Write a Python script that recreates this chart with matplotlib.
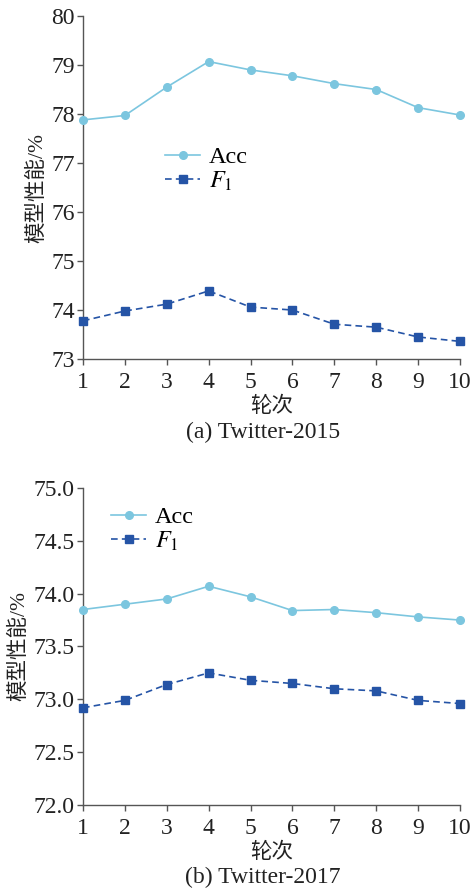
import matplotlib
matplotlib.use("Agg")
import matplotlib.pyplot as plt

plt.rcParams['font.family'] = ['Liberation Serif', 'Noto Sans CJK SC']
plt.rcParams['mathtext.fontset'] = 'stix'

epochs = [1, 2, 3, 4, 5, 6, 7, 8, 9, 10]

# (a) Twitter-2015
acc_2015 = [77.88, 77.97, 78.55, 79.07, 78.90, 78.78, 78.62, 78.50, 78.13, 77.98]
f1_2015 = [73.78, 73.98, 74.12, 74.39, 74.06, 74.00, 73.71, 73.65, 73.45, 73.36]
yticks_2015 = [73, 74, 75, 76, 77, 78, 79, 80]

# (b) Twitter-2017
acc_2017 = [73.85, 73.90, 73.95, 74.07, 73.97, 73.84, 73.85, 73.82, 73.78, 73.75]
f1_2017 = [72.92, 72.99, 73.14, 73.25, 73.18, 73.15, 73.10, 73.08, 72.99, 72.96]
yticks_2017 = [72.0, 72.5, 73.0, 73.5, 74.0, 74.5, 75.0]

acc_color = '#7cc6df'
f1_color = '#2554a6'
spine_color = '#555555'

fig = plt.figure(figsize=(4.73, 8.9), dpi=100)
ax_top = fig.add_axes([0.1755, 0.5966, 0.797, 0.3854])
ax_bot = fig.add_axes([0.1755, 0.0955, 0.797, 0.3562])


def draw_panel(ax, acc, f1, yticks, fmt, legend_anchor, caption, caption_y):
    ax.plot(epochs, acc, color=acc_color, lw=1.2, marker='o', markersize=5.5,
            label='Acc', clip_on=False, zorder=3)
    ax.plot(epochs, f1, color=f1_color, lw=1.2, ls='--', dashes=(4, 2.5),
            marker='s', markersize=5.5, label='$F_1$', clip_on=False, zorder=3)
    ax.set_xlim(1, 10)
    ax.set_ylim(yticks[0], yticks[-1])
    ax.set_xticks(epochs)
    ax.set_yticks(yticks)
    ax.set_yticklabels([fmt.format(v) for v in yticks])
    for side in ['top', 'right']:
        ax.spines[side].set_visible(False)
    for side in ['left', 'bottom']:
        ax.spines[side].set_color(spine_color)
        ax.spines[side].set_linewidth(1.0)
    ax.tick_params(direction='out', length=4, width=1.0, color=spine_color,
                   labelsize=17, labelcolor='#222222', pad=2)
    ax.tick_params(axis='x', pad=5)
    ax.set_xlabel('轮次', fontsize=15.5, labelpad=3, color='#222222')
    ax.set_ylabel('模型性能/%', fontsize=15.5, labelpad=3, color='#222222')
    ax.legend(loc='upper left', bbox_to_anchor=legend_anchor, frameon=False,
              fontsize=17.5, handlelength=1.45, handletextpad=0.35,
              borderpad=0, borderaxespad=0, labelspacing=0.05)
    fig.text(0.556, caption_y, caption, ha='center', va='center',
             fontsize=17, color='#222222')


draw_panel(ax_top, acc_2015, f1_2015, yticks_2015, '{:.0f}',
           (0.2175, 0.621), '(a) Twitter-2015', 1 - 432 / 890)
draw_panel(ax_bot, acc_2017, f1_2017, yticks_2017, '{:.1f}',
           (0.074, 0.943), '(b) Twitter-2017', 1 - 877 / 890)

fig.savefig('out.png', dpi=100)
